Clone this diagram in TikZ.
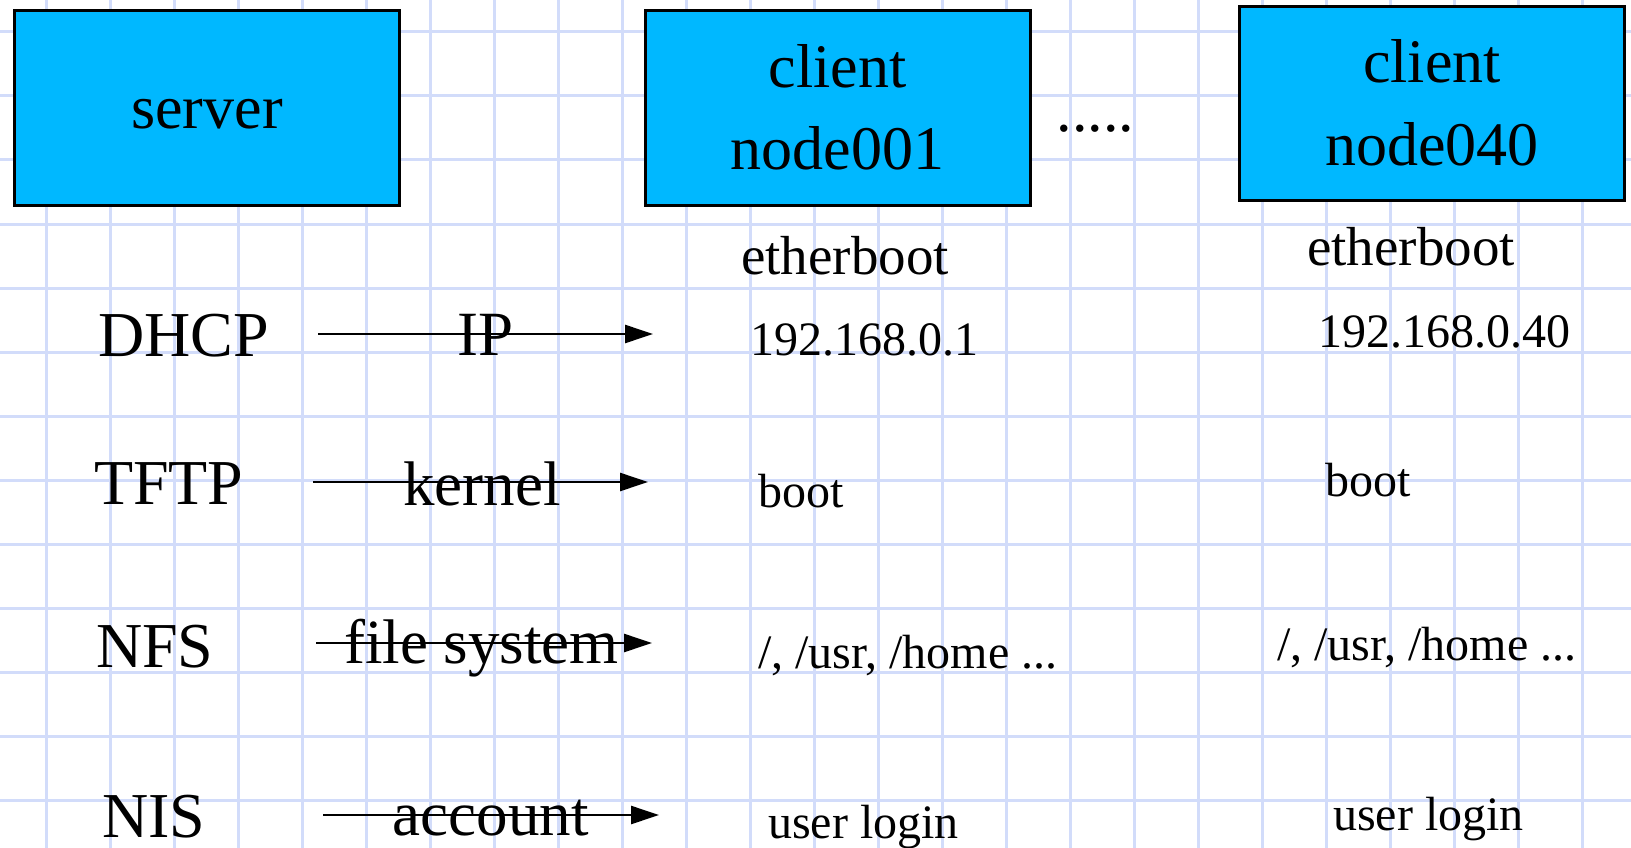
\documentclass[tikz,border=0pt]{standalone}
\usepackage{fontspec}
\setmainfont{Liberation Serif}
\usetikzlibrary{arrows.meta}
\definecolor{gridc}{RGB}{210,220,250}
\definecolor{boxc}{RGB}{0,184,255}
\newcommand{\fszBox}{\fontsize{62}{70}\selectfont}
\newcommand{\fszSrv}{\fontsize{62}{70}\selectfont}
\newcommand{\fszLab}{\fontsize{64}{72}\selectfont}
\newcommand{\fszArr}{\fontsize{63}{70}\selectfont}
\newcommand{\fszEth}{\fontsize{55}{62}\selectfont}
\newcommand{\fszSml}{\fontsize{48}{55}\selectfont}
\tikzset{
  gridline/.style={draw=gridc, line width=3pt},
  boxnode/.style={draw=black, line width=3pt, fill=boxc, inner sep=0pt},
  txt/.style={anchor=base west, inner sep=0pt, text=black},
  ctxt/.style={anchor=base, inner sep=0pt, text=black},
  flow/.style={draw=black, line width=2.5pt, -{Triangle[length=28pt,width=18pt]}}
}
\begin{document}
\begin{tikzpicture}[x=1pt,y=-1pt]
\useasboundingbox (0,0) rectangle (1631,848);
\fill[white] (0,0) rectangle (1631,848);
\begin{scope}
  \clip (0,0) rectangle (1631,848);
  \foreach \i in {0,...,24} \draw[gridline] ({46+64*\i},0) -- ({46+64*\i},848);
  \foreach \j in {0,...,12} \draw[gridline] (0,{32+64*\j}) -- (1631,{32+64*\j});
\end{scope}

% boxes
\node[boxnode, minimum width=385pt, minimum height=195pt] (server) at (207,108) {};
\node[boxnode, minimum width=384.5pt, minimum height=195pt] (n001) at (837.75,108) {};
\node[boxnode, minimum width=385pt, minimum height=194pt] (n040) at (1432,103.5) {};

\node[ctxt, font=\fszSrv] (serverT) at (207,129) {server};
\node[ctxt, font=\fszBox] (c1a) at (837.75,88) {client};
\node[ctxt, font=\fszBox] (c1b) at (837.75,170) {node001};
\node[ctxt, font=\fszBox] (c40a) at (1432,83) {client};
\node[ctxt, font=\fszBox] (c40b) at (1432,165) {node040};
\node[txt, font=\fszBox] (dots) at (1056.5,132) {.....};

% protocol labels
\node[txt, font=\fszLab] (dhcp) at (98,356) {DHCP};
\node[txt, font=\fszLab] (tftp) at (94,504) {TFTP};
\node[txt, font=\fszLab] (nfs) at (96,667) {NFS};
\node[txt, font=\fszLab] (nis) at (102,837) {NIS};

% arrow labels
\node[txt, font=\fszArr] (ip) at (457,355) {IP};
\node[txt, font=\fszArr] (kern) at (403,505) {kernel};
\node[txt, font=\fszArr] (fs) at (344,663) {file system};
\node[txt, font=\fszArr] (acc) at (392.5,835) {account};

% arrows
\coordinate (ipS) at (318,334);   \coordinate (ipE) at (653,334);
\coordinate (kS) at (313,482);    \coordinate (kE) at (648,482);
\coordinate (fS) at (316,643);    \coordinate (fE) at (652,643);
\coordinate (aS) at (323,815);    \coordinate (aE) at (659,815);
\draw[flow] (ipS) -- (ipE);
\draw[flow] (kS) -- (kE);
\draw[flow] (fS) -- (fE);
\draw[flow] (aS) -- (aE);

% node001 column
\node[txt, font=\fszEth] (eth1) at (741,274) {etherboot};
\node[txt, font=\fszSml] (ip1) at (750,355) {192.168.0.1};
\node[txt, font=\fszSml] (boot1) at (758,507) {boot};
\node[txt, font=\fszSml] (fs1) at (758,668) {/, /usr, /home ...};
\node[txt, font=\fszSml] (ul1) at (768,838) {user login};

% node040 column
\node[txt, font=\fszEth] (eth40) at (1307,265) {etherboot};
\node[txt, font=\fszSml] (ip40) at (1318,347) {192.168.0.40};
\node[txt, font=\fszSml] (boot40) at (1325,496) {boot};
\node[txt, font=\fszSml] (fs40) at (1277,660) {/, /usr, /home ...};
\node[txt, font=\fszSml] (ul40) at (1333,830) {user login};
\end{tikzpicture}
\end{document}
